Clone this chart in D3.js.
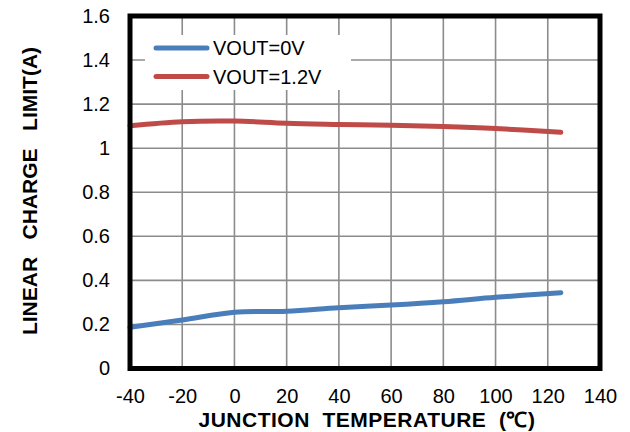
<!DOCTYPE html>
<html>
<head>
<meta charset="utf-8">
<script src="https://cdn.jsdelivr.net/npm/d3@7"></script>
<style>
  body { margin: 0; background: #fff; }
  text { font-family: "Liberation Sans", Arial, sans-serif; }
  .tick text { font-size: 20px; fill: #000; }
  .axTitle { font-size: 21px; font-weight: bold; white-space: pre; }
  .legText { font-size: 20px; }
</style>
</head>
<body>
<script>
// values
var temps = [-40, -20, 0, 20, 40, 60, 80, 100, 125];
var vout0 = [0.187, 0.220, 0.255, 0.260, 0.276, 0.288, 0.303, 0.323, 0.344];
var vout12 = [1.102, 1.120, 1.123, 1.113, 1.108, 1.104, 1.098, 1.089, 1.072];
var seriesNames = ['VOUT=0V', 'VOUT=1.2V'];
var seriesColors = ['#4a7ebb', '#be4b48'];
var xTicks = [-40, -20, 0, 20, 40, 60, 80, 100, 120, 140];
var yTicks = [0, 0.2, 0.4, 0.6, 0.8, 1, 1.2, 1.4, 1.6];

var width = 630, height = 432;
var margin = {top: 16, right: 30, bottom: 63.5, left: 130};

var svg = d3.select('body').append('svg')
  .attr('width', width)
  .attr('height', height);

var x = d3.scaleLinear()
  .domain([-40, 140])
  .range([margin.left, width - margin.right]);

var y = d3.scaleLinear()
  .domain([0, 1.6])
  .range([height - margin.bottom, margin.top]);

// grid
svg.append('g')
  .selectAll('line.vg')
  .data(xTicks)
  .enter().append('line')
  .attr('x1', d => x(d)).attr('x2', d => x(d))
  .attr('y1', y(1.6)).attr('y2', y(0))
  .style('stroke', '#8c8c8c').style('stroke-width', 1.6);

svg.append('g')
  .selectAll('line.hg')
  .data(yTicks)
  .enter().append('line')
  .attr('x1', x(-40)).attr('x2', x(140))
  .attr('y1', d => y(d)).attr('y2', d => y(d))
  .style('stroke', '#8c8c8c').style('stroke-width', 1.6);

// axes (labels only)
var xAxis = d3.axisBottom(x).tickValues(xTicks).tickSize(0).tickPadding(20).tickFormat(d => d);
svg.append('g')
  .attr('transform', `translate(0, ${y(0)})`)
  .call(xAxis)
  .call(g => g.select('.domain').remove());

var yAxis = d3.axisLeft(y).tickValues(yTicks).tickSize(0).tickPadding(20).tickFormat(d => d);
svg.append('g')
  .attr('transform', `translate(${x(-40)}, 0)`)
  .call(yAxis)
  .call(g => g.select('.domain').remove());

// legend box (white, hides grid)
svg.append('rect')
  .attr('x', 145).attr('y', 35)
  .attr('width', 206).attr('height', 55)
  .style('fill', '#fff');

// lines
var line = d3.line()
  .x((d, i) => x(temps[i]))
  .y(d => y(d))
  .curve(d3.curveCatmullRom.alpha(0.5));

[vout0, vout12].forEach(function(vals, i) {
  svg.append('path')
    .datum(vals)
    .attr('d', line)
    .style('fill', 'none')
    .style('stroke', seriesColors[i])
    .style('stroke-width', 5)
    .style('stroke-linecap', 'round')
    .style('stroke-linejoin', 'round');
});

// frame
svg.append('rect')
  .attr('x', x(-40)).attr('y', y(1.6))
  .attr('width', x(140) - x(-40))
  .attr('height', y(0) - y(1.6))
  .style('fill', 'none')
  .style('stroke', '#000')
  .style('stroke-width', 5);

// legend
seriesNames.forEach(function(name, i) {
  var ly = 48 + i * 28.5;
  svg.append('line')
    .attr('x1', 156).attr('x2', 207)
    .attr('y1', ly).attr('y2', ly)
    .style('stroke', seriesColors[i])
    .style('stroke-width', 5)
    .style('stroke-linecap', 'round');
  svg.append('text')
    .attr('class', 'legText')
    .attr('x', 213).attr('y', ly + 7)
    .text(name);
});

// axis titles
svg.append('text')
  .attr('class', 'axTitle')
  .attr('x', 367).attr('y', 427)
  .style('text-anchor', 'middle')
  .style('letter-spacing', '0.5px')
  .text('JUNCTION  TEMPERATURE  (\u2103)');

svg.append('text')
  .attr('class', 'axTitle')
  .attr('transform', 'translate(37, 191) rotate(-90)')
  .style('text-anchor', 'middle')
  .text('LINEAR   CHARGE   LIMIT(A)');
</script>
</body>
</html>
